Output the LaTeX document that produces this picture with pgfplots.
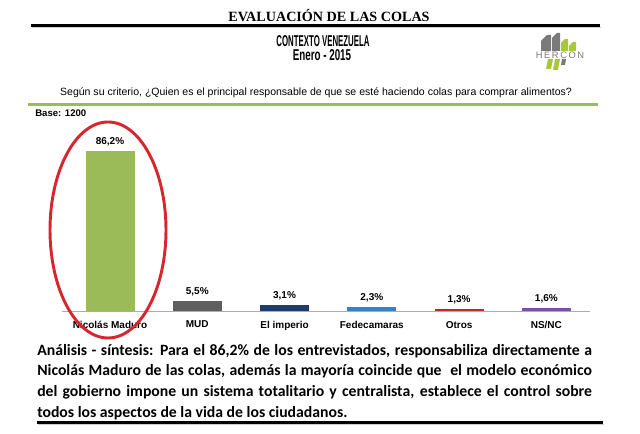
\documentclass[border=0pt]{standalone}
\usepackage{pgfplots}
\pgfplotsset{compat=1.18}
\usepackage{fontspec}
\setmainfont{Liberation Sans}
\newfontfamily\serifb{Liberation Serif}
\newfontfamily\calib{Carlito}
\definecolor{cgreen}{HTML}{9BBB59}
\definecolor{cgray}{HTML}{5F5F5F}
\definecolor{cnavy}{HTML}{1F3A6E}
\definecolor{cblue}{HTML}{3A80C4}
\definecolor{cred}{HTML}{C0282D}
\definecolor{cpurple}{HTML}{7E4FA8}
\definecolor{ellred}{HTML}{D7262E}
\definecolor{logogray}{HTML}{7A7A7A}
\definecolor{logogreen}{HTML}{A8C83C}
\begin{document}
\begin{tikzpicture}
\begin{scope}[x=0.75pt,y=-0.75pt]
\path (0,0) rectangle (640,434);
% title
\node[font=\serifb\bfseries\fontsize{10.6}{12}\selectfont, inner sep=0] at (329,16) {EVALUACIÓN DE LAS COLAS};
\fill[gray!40] (32,27) rectangle (601,28.5);
\draw[black, line width=2pt] (31,25.5) -- (600,25.5);
\node[inner sep=0] at (323,41) {\scalebox{0.6}[1.2]{\fontsize{9.8}{11}\selectfont\bfseries CONTEXTO VENEZUELA}};
\node[inner sep=0] at (322,55) {\scalebox{0.75}[1.2]{\fontsize{9.8}{11}\selectfont\bfseries Enero - 2015}};
% logo
\fill[logogray] (541,41) -- (547,35) -- (551,35) -- (551,51) -- (541,51) -- cycle;
\fill[logogray] (552,38) -- (557,33) -- (560,33) -- (560,51) -- (552,51) -- cycle;
\fill[logogreen] (561,43) -- (565,39) -- (568,39) -- (568,51) -- (561,51) -- cycle;
\fill[logogreen] (569,46) -- (573,42) -- (576,42) -- (576,51) -- (569,51) -- cycle;
\fill[logogreen] (548,59) -- (553,59) -- (551,69) -- (546,69) -- cycle;
\fill[logogreen] (555,59) -- (560,59) -- (558,70) -- (553,70) -- cycle;
\fill[logogray] (562,59) -- (566,59) -- (565,65) -- (561,65) -- cycle;
\node[font=\fontsize{7}{8}\selectfont, text=logogray, inner sep=0] at (560,55) {H\kern1.2pt E\kern1.2pt R\kern1.2pt C\kern1.2pt O\kern1.2pt N};
% question
\node[font=\fontsize{7.9}{9}\selectfont, inner sep=0] at (316,93) {Según su criterio, ¿Quien es el principal responsable de que se esté haciendo colas para comprar alimentos?};
\draw[cgreen, line width=2.4pt] (28,104.5) -- (598,104.5);
\node[font=\bfseries\fontsize{7.2}{8}\selectfont, anchor=west, inner sep=0] at (35,113.5) {Base: 1200};
\end{scope}
\begin{axis}[
  at={(46.5pt,-233.25pt)}, anchor=south west,
  width=396pt, height=127.5pt, scale only axis,
  ymin=0, ymax=91.6, xmin=-0.55, xmax=5.5,
  axis x line*=bottom, axis y line=none,
  x axis line style={draw=gray!65, line width=0.6pt, -},
  xtick={0,...,5},
  xticklabels={Nicolás Maduro, MUD, El imperio, Fedecamaras, Otros, NS/NC},
  xticklabel style={font=\bfseries\fontsize{7.5}{9}\selectfont, yshift=-4pt},
  major tick length=0pt,
  ybar, bar width=36.75pt, bar shift=0pt,
  clip=false,
  nodes near coords={\pgfmathprintnumber[use comma,fixed,fixed zerofill,precision=1,assume math mode=true]{\pgfplotspointmeta}\%},
  every node near coord/.append style={font=\bfseries\fontsize{7.5}{9}\selectfont, text=black},
]
\addplot[fill=cgreen, draw=none] coordinates {(0,86.2)};
\addplot[fill=cgray, draw=none] coordinates {(1,5.5)};
\addplot[fill=cnavy, draw=none] coordinates {(2,3.1)};
\addplot[fill=cblue, draw=none] coordinates {(3,2.3)};
\addplot[fill=cred, draw=none] coordinates {(4,1.3)};
\addplot[fill=cpurple, draw=none] coordinates {(5,1.6)};
\end{axis}
\begin{scope}[x=0.75pt,y=-0.75pt]
\draw[ellred, line width=2.2pt] (108,230) ellipse [x radius=58, y radius=108];
\node[anchor=north west, text width=416pt, align=justify, inner sep=0,
  font=\calib\bfseries\fontsize{11.8}{15.5}\selectfont] at (37,344) {Análisis - síntesis: Para el 86,2\% de los entrevistados, responsabiliza directamente a\linebreak Nicolás Maduro de las colas, además la mayoría coincide que~ el modelo económico\linebreak del gobierno impone un sistema totalitario y centralista, establece el control sobre\linebreak todos los aspectos de la vida de los ciudadanos.};
\fill[gray!40] (38,424) rectangle (604,425.5);
\draw[black, line width=2pt] (37,422.5) -- (603,422.5);
\end{scope}
\end{tikzpicture}
\end{document}
